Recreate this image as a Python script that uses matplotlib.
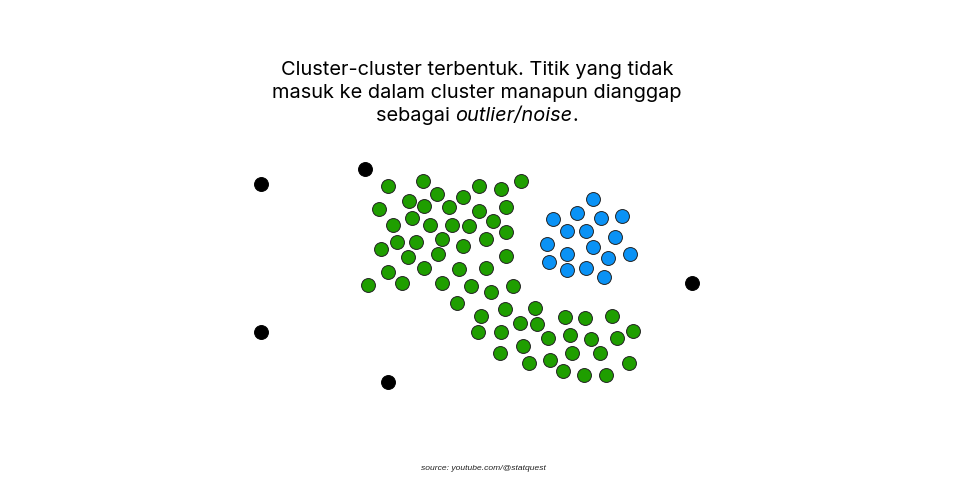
import matplotlib
matplotlib.use("Agg")
import matplotlib.pyplot as plt

# points (x to the right, y downward)
green_x = [388, 423, 409, 437, 463, 479, 501, 521, 379, 424, 449, 479, 506, 393, 412, 430,
           452, 469, 493, 506, 381, 397, 416, 442, 463, 486, 408, 438, 506, 388, 424, 459,
           486, 368, 402, 442, 471, 491, 513, 457,
           481, 505, 535, 565, 585, 612, 520, 537, 478, 501, 548, 570, 591, 617, 633,
           500, 523, 572, 600, 529, 550, 563, 584, 606, 629]
green_y = [186, 181, 201, 194, 197, 186, 189, 181, 209, 206, 207, 211, 207, 225, 218, 225,
           225, 226, 221, 232, 249, 242, 242, 239, 246, 239, 257, 254, 256, 272, 268, 269,
           268, 285, 283, 283, 286, 292, 286, 303,
           316, 309, 308, 317, 318, 316, 323, 324, 332, 332, 338, 335, 339, 338, 331,
           353, 346, 353, 353, 363, 360, 371, 375, 375, 363]

blue_x = [593, 577, 553, 601, 622, 567, 586, 615, 547, 593, 567, 630, 608, 549, 567, 586, 604]
blue_y = [199, 213, 219, 218, 216, 231, 231, 237, 244, 247, 254, 254, 258, 262, 270, 268, 277]

noise_x = [261, 365, 692, 261, 388]
noise_y = [184, 169, 283, 332, 382]

title_lines = ["Cluster-cluster terbentuk. Titik yang tidak",
               "masuk ke dalam cluster manapun dianggap"]
title_last = ["sebagai ", "outlier/noise", "."]
source = "source: youtube.com/@statquest"

fig = plt.figure(figsize=(9.66, 4.83), dpi=100)
ax = fig.add_axes([0, 0, 1, 1])
ax.set_xlim(0, 966)
ax.set_ylim(483, 0)
ax.axis("off")

ax.scatter(green_x, green_y, s=100, color="#1f9e00", edgecolors="#222222", linewidths=0.7, zorder=3)
ax.scatter(blue_x, blue_y, s=100, color="#0a92f5", edgecolors="#222222", linewidths=0.7, zorder=3)
ax.scatter(noise_x, noise_y, s=100, color="black", edgecolors="black", linewidths=0.7, zorder=3)

cx = 477
fsize = 14.4
ax.text(cx, 70, title_lines[0], ha="center", va="center", fontsize=fsize, family="Inter")
ax.text(cx, 93, title_lines[1], ha="center", va="center", fontsize=fsize, family="Inter")

# last line mixes regular and italic, so place the pieces one after another
fig.canvas.draw()
r = fig.canvas.get_renderer()
pieces = []
for txt, st in zip(title_last, ["normal", "italic", "normal"]):
    t = ax.text(0, 116, txt, ha="left", va="center", fontsize=fsize, family="Inter", style=st)
    pieces.append(t)
widths = [p.get_window_extent(r).width for p in pieces]
x0 = cx - sum(widths) / 2
for p, w in zip(pieces, widths):
    p.set_x(x0)
    x0 += w

ax.text(483, 468, source, ha="center", va="center", fontsize=6.1,
        family="Liberation Sans", style="italic", color="#222222")

fig.savefig("out.png", dpi=100)
